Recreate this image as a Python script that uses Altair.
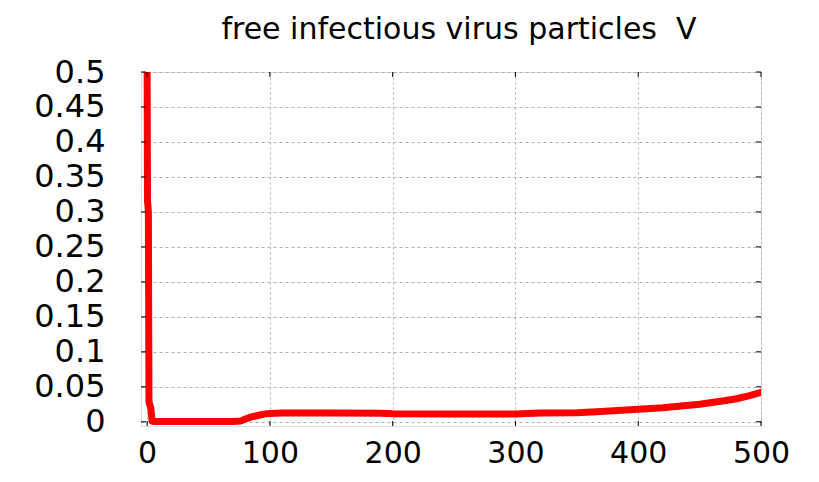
import altair as alt
import pandas as pd

# time points and virus concentration V
t_vals = [0, 0.3, 0.6, 1.0, 1.5, 2.0, 3.0, 4.0, 5.0, 10, 30, 50, 70, 76, 80, 85, 90, 95, 100,
          110, 150, 190, 200, 250, 300, 320, 350, 370, 400, 420, 450, 470, 480, 490, 500]
v_vals = [0.5, 0.315, 0.31, 0.3, 0.03, 0.025, 0.02, 0.001, 0.0005, 0.0003, 0.0003, 0.0003, 0.0005,
          0.001, 0.004, 0.007, 0.009, 0.011, 0.012,
          0.0125, 0.0125, 0.0123, 0.0115, 0.011, 0.011, 0.0125, 0.013, 0.0147, 0.018, 0.020,
          0.025, 0.030, 0.033, 0.037, 0.042]
x_ticks = [0, 100, 200, 300, 400, 500]
y_ticks = [0, 0.05, 0.1, 0.15, 0.2, 0.25, 0.3, 0.35, 0.4, 0.45, 0.5]

W, H = 620, 354
FONT = "DejaVu Sans"

df = pd.DataFrame({"t": t_vals, "V": v_vals})
xt = pd.DataFrame({"t": x_ticks})
yt = pd.DataFrame({"V": y_ticks})

xscale = alt.Scale(domain=[-5, 500], nice=False, zero=False)
yscale = alt.Scale(domain=[-0.006, 0.5], nice=False, zero=False)

xaxis = alt.Axis(values=x_ticks, title=None, ticks=False, domain=False, labelFontSize=30,
                 labelFont=FONT, labelColor="black", labelPadding=12, grid=True,
                 gridColor="#b0b0b0", gridDash=[2, 3], labelFlush=False, labelOverlap=False)
yaxis = alt.Axis(values=y_ticks, title=None, ticks=False, domain=False, labelFontSize=32,
                 labelFont=FONT, labelColor="black", labelPadding=36, grid=True,
                 gridColor="#b0b0b0", gridDash=[3, 3], labelFlush=False, labelOverlap=False,
                 format="~g")

X = alt.X("t:Q", scale=xscale, axis=xaxis)
Y = alt.Y("V:Q", scale=yscale, axis=yaxis)

line = alt.Chart(df).mark_line(color="#ff0000", strokeWidth=7, strokeJoin="round",
                               strokeCap="round", clip=True).encode(x=X, y=Y)

tick_style = dict(color="black", strokeWidth=1)
bottom_ticks = alt.Chart(xt).mark_rule(**tick_style).encode(
    x=X, y=alt.value(H), y2=alt.value(H - 5))
top_ticks = alt.Chart(xt).mark_rule(**tick_style).encode(
    x=X, y=alt.value(0), y2=alt.value(5))
left_ticks = alt.Chart(yt).mark_rule(**tick_style).encode(
    y=Y, x=alt.value(0), x2=alt.value(5))
right_ticks = alt.Chart(yt).mark_rule(**tick_style).encode(
    y=Y, x=alt.value(W), x2=alt.value(W - 5))

chart = alt.layer(line, bottom_ticks, top_ticks, left_ticks, right_ticks).properties(
    width=W, height=H,
    title=alt.TitleParams("free infectious virus particles \u00a0V", fontSize=30, font=FONT,
                          fontWeight="normal", color="black", anchor="middle", dx=8, offset=11),
    autosize=alt.AutoSizeParams(type="none"),
    padding={"left": 133, "top": 64, "right": 40, "bottom": 48},
).configure_view(stroke="black", strokeWidth=1).configure(background="white")

chart.save("out.html", embed_options={"renderer": "svg", "actions": False})
